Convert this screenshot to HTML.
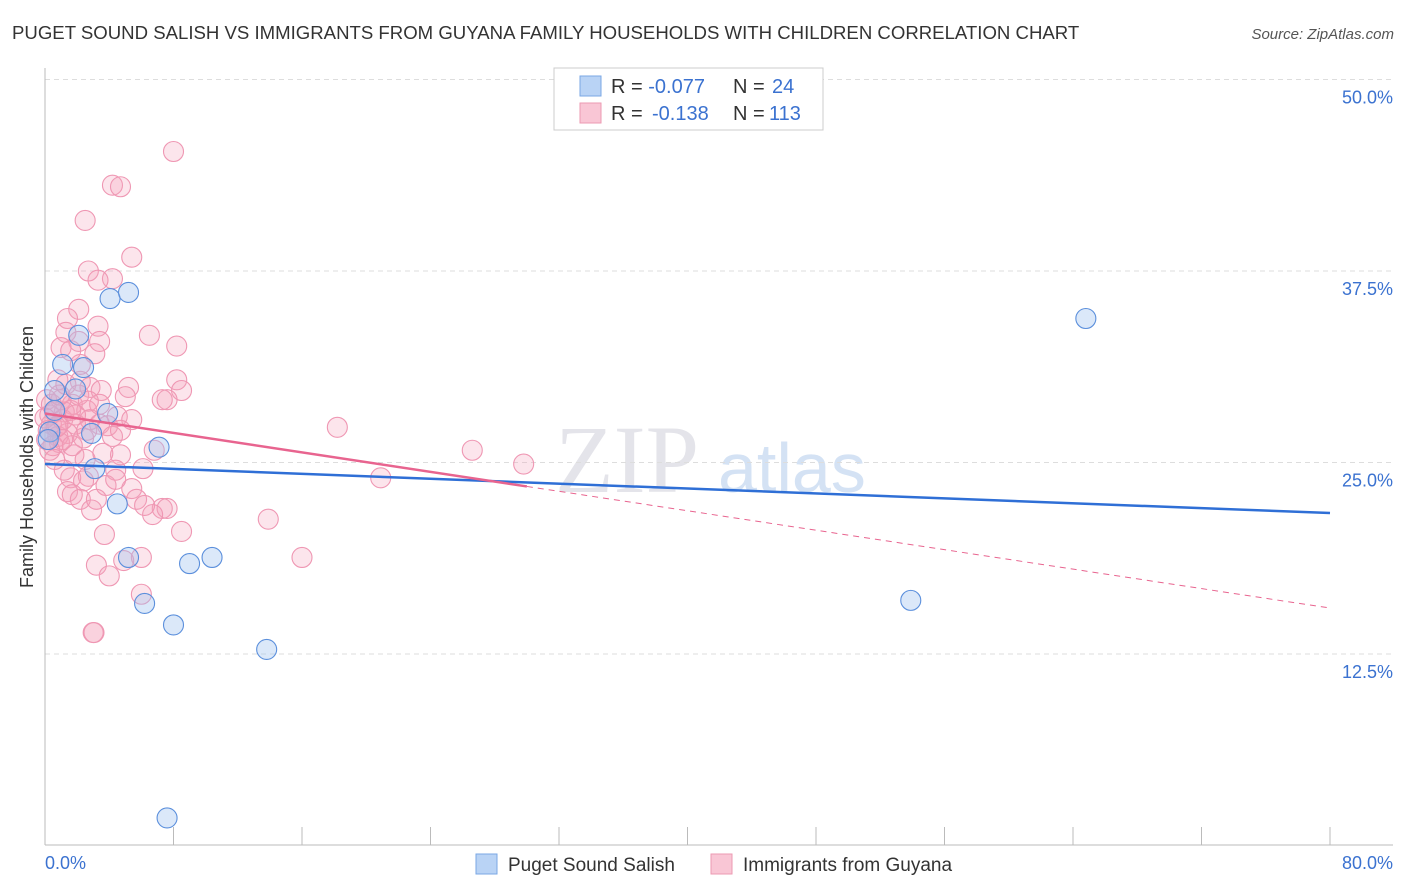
<!DOCTYPE html>
<html><head><meta charset="utf-8">
<style>
body{margin:0;background:#fff;font-family:"Liberation Sans",sans-serif;}
#wrap{position:relative;width:1406px;height:892px;overflow:hidden;}
</style></head>
<body>
<div id="wrap">
<svg id="svg" width="1406" height="892" xmlns="http://www.w3.org/2000/svg">
<text x="12" y="39" font-size="18.6" fill="#333">PUGET SOUND SALISH VS IMMIGRANTS FROM GUYANA FAMILY HOUSEHOLDS WITH CHILDREN CORRELATION CHART</text>
<text x="1394" y="39" font-size="15" fill="#555" font-style="italic" text-anchor="end">Source: ZipAtlas.com</text>
<text x="33" y="457" font-size="18" fill="#333" text-anchor="middle" transform="rotate(-90 33 457)">Family Households with Children</text>
<text x="555" y="492" font-size="96" fill="#e4e4ea" font-family="Liberation Serif,serif">ZIP</text>
<text x="718" y="492" font-size="70" fill="#d4e2f4">atlas</text>
<g id="grid"></g><g id="axes"></g><g id="pinkpts"></g><g id="bluepts"></g><g id="trends"></g>
<g>
<rect x="554" y="68" width="269" height="62" fill="#fff" stroke="#ccc"/>
<rect x="580" y="76" width="21" height="20" fill="#b9d3f5" stroke="#7aa7e4"/>
<text x="611" y="93" font-size="20" fill="#333">R = <tspan fill="#3b72d0">-0.077</tspan><tspan x="733">N = </tspan><tspan x="772" fill="#3b72d0">24</tspan></text>
<rect x="580" y="103" width="21" height="20" fill="#f9c6d5" stroke="#ec9ab2"/>
<text x="611" y="120" font-size="20" fill="#333">R = <tspan x="652" fill="#3b72d0">-0.138</tspan><tspan x="733">N = </tspan><tspan x="769" fill="#3b72d0">113</tspan></text>
</g>
<g>
<rect x="476" y="854" width="21" height="20" fill="#b9d3f5" stroke="#7aa7e4"/>
<text x="508" y="871" font-size="19" fill="#333">Puget Sound Salish</text>
<rect x="711" y="854" width="21" height="20" fill="#f9c6d5" stroke="#ec9ab2"/>
<text x="743" y="871" font-size="19" fill="#333">Immigrants from Guyana</text>
</g>
</svg>
</div>
<script>
const yTicks=[12.5,25,37.5,50];
const yTickLabels=["12.5%","25.0%","37.5%","50.0%"];
const xTicks=[0,8,16,24,32,40,48,56,64,72,80];
const blueX=[4.05,5.2,2.1,1.1,2.4,1.9,3.9,0.6,0.3,2.9,7.1,3.1,4.5,5.2,10.4,9.0,6.2,8.0,13.8,7.6,64.8,53.9,0.2,0.6];
const blueY=[35.7,36.1,33.3,31.4,31.2,29.8,28.2,29.7,27.0,26.9,26.0,24.6,22.3,18.8,18.8,18.4,15.8,14.4,12.8,1.8,34.4,16.0,26.5,28.4];
const pinkX=[8.0,4.2,4.7,2.5,5.4,2.7,4.2,3.3,2.1,1.4,3.3,1.3,6.5,2.1,3.4,1.0,8.2,3.1,0.8,2.2,8.2,2.8,5.2,3.5,8.5,7.6,5.0,7.3,1.0,1.7,2.6,0.6,1.2,4.5,5.4,3.4,0.4,1.9,3.9,0.2,1.4,0.8,4.2,2.4,0.9,6.8,0.5,18.2,26.6,29.8,4.7,1.8,3.6,6.1,4.4,1.6,2.7,2.4,3.8,5.4,1.4,1.7,5.7,2.2,7.3,7.6,2.9,6.7,13.9,8.5,3.7,20.9,6.0,16.0,3.2,4.0,4.9,6.0,3.0,3.05,0.1,0.3,0.4,0.1,0.7,1.1,1.6,0,0.9,1.3,0.8,0.3,1.7,2.5,4.7,3.4,2.8,1.2,0.6,2.1,2.7,3.2,6.2,4.4,2.2,1.6,1.1,1.9,2.6];
const pinkY=[45.3,43.1,43.0,40.8,38.4,37.5,37.0,36.9,35.0,34.4,33.9,33.5,33.3,32.9,32.9,32.5,32.6,32.1,30.4,30.3,30.4,29.9,29.9,29.7,29.7,29.1,29.3,29.1,29.1,28.8,28.4,28.3,28.3,28.0,27.8,27.5,27.5,27.5,27.4,27.1,26.9,26.7,26.7,26.6,26.3,25.8,26.1,27.3,25.8,24.9,25.5,25.5,25.6,24.6,24.5,24.0,24.1,23.8,23.5,23.3,23.1,22.9,22.6,22.6,22.0,22.0,21.9,21.6,21.3,20.5,20.3,24.0,18.8,18.8,18.3,17.6,18.6,16.4,13.9,13.9,29.1,28.1,28.8,26.5,27.3,27.8,28.4,27.9,29.4,30.1,27.4,25.8,26.1,25.2,27.1,28.8,27.8,24.5,25.2,29.4,29.0,22.6,22.2,23.9,31.4,32.3,26.5,28.1,27.1];
const blueTrend=[24.9,21.7];
const pinkTrend=[28.2,15.5];
const pinkSolidEnd=30;
const NS="http://www.w3.org/2000/svg";
const X=v=>45+v*16.0625, Y=v=>845.5-v*15.32;
function mk(tag,attrs,parent){const e=document.createElementNS(NS,tag);for(const k in attrs)e.setAttribute(k,attrs[k]);document.getElementById(parent).appendChild(e);return e;}
yTicks.forEach((t,i)=>{
  const g=mk('line',{x1:45,x2:1393,y1:Y(t),y2:Y(t),stroke:'#ddd','stroke-dasharray':'5,4'},'grid');
  
  
  const l=mk('text',{x:1393,y:Y(t)+24,'font-size':18,fill:'#3b72d0','text-anchor':'end'},'grid');
  l.textContent=yTickLabels[i];
  
  
});
let a=mk('line',{x1:45,x2:45,y1:68,y2:845,stroke:'#bbb'},'axes');


a=mk('line',{x1:45,x2:1393,y1:845,y2:845,stroke:'#bbb'},'axes');


xTicks.forEach(t=>{
  const e=mk('line',{x1:X(t),x2:X(t),y1:827,y2:845,stroke:'#bbb'},'axes');
  
  
});
let t=mk('text',{x:45,y:869,'font-size':18,fill:'#3b72d0'},'axes');t.textContent='0.0%';


t=mk('text',{x:1393,y:869,'font-size':18,fill:'#3b72d0','text-anchor':'end'},'axes');t.textContent='80.0%';


pinkX.forEach((v,i)=>{
  const c=mk('circle',{cx:X(v),cy:Y(pinkY[i]),r:10,fill:'rgba(245,160,185,0.28)',stroke:'#ef97b3','stroke-width':1.1},'pinkpts');
  
  
});
blueX.forEach((v,i)=>{
  const c=mk('circle',{cx:X(v),cy:Y(blueY[i]),r:10,fill:'rgba(160,195,240,0.38)',stroke:'#5b8fdc','stroke-width':1.1},'bluepts');
  
  
});
const pv=x=>pinkTrend[0]+(pinkTrend[1]-pinkTrend[0])*x/80;
let l=mk('line',{x1:X(0),y1:Y(blueTrend[0]),x2:X(80),y2:Y(blueTrend[1]),stroke:'#2f6fd6','stroke-width':2.5},'trends');


l=mk('line',{x1:X(0),y1:Y(pv(0)),x2:X(pinkSolidEnd),y2:Y(pv(pinkSolidEnd)),stroke:'#e8648f','stroke-width':2.5},'trends');


l=mk('line',{x1:X(pinkSolidEnd),y1:Y(pv(pinkSolidEnd)),x2:X(80),y2:Y(pv(80)),stroke:'#e8648f','stroke-width':1,'stroke-dasharray':'6,5'},'trends');


</script>
</body></html>
